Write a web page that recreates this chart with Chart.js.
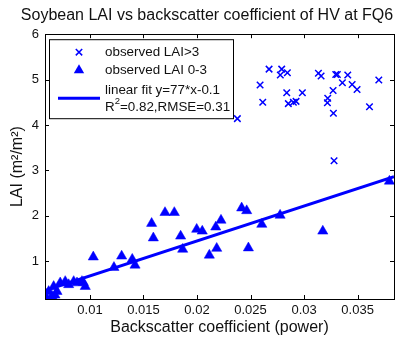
<!DOCTYPE html>
<html>
<head>
<meta charset="utf-8">
<script src="https://cdn.jsdelivr.net/npm/chart.js@4.4.1/dist/chart.umd.min.js"></script>
<style>
  html, body { margin: 0; padding: 0; background: #fff; }
</style>
</head>
<body>
<canvas id="c" width="406" height="341"></canvas>
<script>
// ---------------------------------------------------------------------------
// data
// ---------------------------------------------------------------------------
var highX = [0.02377, 0.02589, 0.02614, 0.02673, 0.02791, 0.02778, 0.02844, 0.02838, 0.02853,
             0.02900, 0.02925, 0.02984, 0.03134, 0.03159, 0.03271, 0.03221, 0.03218, 0.03274,
             0.03296, 0.03311, 0.03358, 0.03408, 0.03449, 0.03495, 0.03611, 0.03698, 0.03280];
var highY = [4.14, 4.88, 4.50, 5.23, 5.23, 5.10, 5.15, 4.71, 4.47,
             4.50, 4.52, 4.71, 5.14, 5.08, 4.76, 4.59, 4.49, 4.26,
             5.11, 5.11, 4.93, 5.10, 4.89, 4.78, 4.40, 4.99, 3.21];

var lowX = [0.00595, 0.00614, 0.00645, 0.00661, 0.00673, 0.00692, 0.00722, 0.00769, 0.00801,
            0.00848, 0.00879, 0.00925, 0.00938, 0.00956, 0.01031, 0.01224, 0.01296, 0.01395,
            0.01421, 0.01576, 0.01592, 0.01701, 0.01788, 0.01847, 0.01866, 0.01997, 0.02049,
            0.02115, 0.02175, 0.02184, 0.02224, 0.02417, 0.02464, 0.02480, 0.02605, 0.02776,
            0.03175, 0.03797];
var lowY = [0.19, 0.33, 0.23, 0.44, 0.25, 0.33, 0.52, 0.55, 0.48,
            0.55, 0.52, 0.55, 0.53, 0.44, 1.09, 0.86, 1.11, 1.04,
            0.91, 1.83, 1.51, 2.07, 2.07, 1.55, 1.26, 1.70, 1.66,
            1.13, 1.75, 1.28, 1.90, 2.17, 2.11, 1.29, 1.81, 2.01,
            1.66, 2.76];

// linear fit y=77*x-0.1, its two end points
var fitX = [0.0058, 0.0384];
var fitY = [0.35, 2.86];

var xTicks = [0.01, 0.015, 0.02, 0.025, 0.03, 0.035];
var yTicks = [1, 2, 3, 4, 5, 6];

var labels = ['observed LAI>3', 'observed LAI 0-3', 'linear fit y=77*x-0.1'];
var fitNote = ['R', '2', '=0.82,RMSE=0.31'];

var BLUE = '#0000ff';
var FONT = 'Liberation Sans, Arial, Helvetica, sans-serif';
var TEXT = '#111';

function toPoints(xs, ys) {
   return xs.map(function(x, i) { return { x: x, y: ys[i] }; });
}

// box round the plot area with inward ticks on all four sides
var axisBox = {
   id: 'axisBox',
   afterDatasetsDraw: function(chart) {
      var ctx = chart.ctx, a = chart.chartArea, sx = chart.scales.x, sy = chart.scales.y;
      var len = 4;
      ctx.save();
      ctx.strokeStyle = '#000';
      ctx.lineWidth = 1;
      ctx.strokeRect(Math.round(a.left) + 0.5, Math.round(a.top) + 0.5,
                     Math.round(a.right - a.left), Math.round(a.bottom - a.top));
      ctx.beginPath();
      xTicks.forEach(function(v) {
         var px = Math.round(sx.getPixelForValue(v)) + 0.5;
         ctx.moveTo(px, a.bottom); ctx.lineTo(px, a.bottom - len);
         ctx.moveTo(px, a.top);    ctx.lineTo(px, a.top + len);
      });
      yTicks.forEach(function(v) {
         var py = Math.round(sy.getPixelForValue(v)) + 0.5;
         ctx.moveTo(a.left, py);  ctx.lineTo(a.left + len, py);
         ctx.moveTo(a.right, py); ctx.lineTo(a.right - len, py);
      });
      ctx.stroke();
      ctx.restore();
   }
};

// legend box inside the upper left corner, MATLAB style
var boxLegend = {
   id: 'boxLegend',
   afterDraw: function(chart) {
      var ctx = chart.ctx, a = chart.chartArea;
      var left = a.left + 4, top = a.top + 5, w = 184, h = 79;
      var mx = left + 30, tx = left + 56;
      ctx.save();
      ctx.fillStyle = '#fff';
      ctx.fillRect(left, top, w, h);
      ctx.strokeStyle = '#000';
      ctx.lineWidth = 1;
      ctx.strokeRect(left + 0.5, top + 0.5, w, h);

      // x marker
      var r = 3.2, y1 = top + 13;
      ctx.strokeStyle = BLUE;
      ctx.lineWidth = 1.5;
      ctx.beginPath();
      ctx.moveTo(mx - r, y1 - r); ctx.lineTo(mx + r, y1 + r);
      ctx.moveTo(mx - r, y1 + r); ctx.lineTo(mx + r, y1 - r);
      ctx.stroke();

      // triangle marker
      var y2 = top + 31, t = 6;
      ctx.fillStyle = BLUE;
      ctx.beginPath();
      ctx.moveTo(mx, y2 - t);
      ctx.lineTo(mx + t * 0.866, y2 + t / 2);
      ctx.lineTo(mx - t * 0.866, y2 + t / 2);
      ctx.closePath();
      ctx.fill();

      // fit line
      var y3 = top + 59;
      ctx.lineWidth = 3;
      ctx.beginPath();
      ctx.moveTo(left + 9, y3); ctx.lineTo(left + 51, y3);
      ctx.stroke();

      // texts
      ctx.fillStyle = TEXT;
      ctx.textBaseline = 'middle';
      ctx.font = '13.4px ' + FONT;
      ctx.fillText(labels[0], tx, y1);
      ctx.fillText(labels[1], tx, y2);
      ctx.fillText(labels[2], tx, top + 51);
      var y4 = top + 68;
      ctx.fillText(fitNote[0], tx, y4);
      var wR = ctx.measureText(fitNote[0]).width;
      ctx.font = '9.5px ' + FONT;
      ctx.fillText(fitNote[1], tx + wR, y4 - 6);
      var w2 = ctx.measureText(fitNote[1]).width;
      ctx.font = '13.4px ' + FONT;
      ctx.fillText(fitNote[2], tx + wR + w2, y4);
      ctx.restore();
   }
};

var tickFont = { family: FONT, size: 13 };
var titleFont = { family: FONT, size: 16, weight: 'normal' };

new Chart(document.getElementById('c'), {
   type: 'scatter',
   data: {
      datasets: [
         {
            label: labels[2],
            type: 'line',
            data: toPoints(fitX, fitY),
            borderColor: BLUE,
            borderWidth: 3,
            pointRadius: 0,
            fill: false,
            order: 0
         },
         {
            label: labels[0],
            data: toPoints(highX, highY),
            pointStyle: 'crossRot',
            pointRadius: 4.6,
            borderColor: BLUE,
            borderWidth: 1.5,
            order: 2
         },
         {
            label: labels[1],
            data: toPoints(lowX, lowY),
            pointStyle: 'triangle',
            pointRadius: 5.9,
            backgroundColor: BLUE,
            borderColor: BLUE,
            borderWidth: 0.5,
            order: 1
         }
      ]
   },
   options: {
      responsive: false,
      animation: false,
      layout: { padding: { left: 8, right: 0, top: 0, bottom: 0 } },
      plugins: {
         legend: { display: false },
         tooltip: { enabled: false },
         title: {
            display: true,
            text: 'Soybean LAI vs backscatter coefficient of HV at FQ6',
            font: titleFont,
            color: TEXT,
            padding: { top: 6, bottom: 9 }
         }
      },
      scales: {
         x: {
            type: 'linear',
            position: 'bottom',
            min: 0.0058,
            max: 0.0384,
            afterBuildTicks: function(s) { s.ticks = xTicks.map(function(v) { return { value: v }; }); },
            afterFit: function(s) { s.height = 42; },
            grid: { display: false, drawTicks: false },
            border: { display: false },
            ticks: {
               font: tickFont, color: TEXT, padding: 4, maxRotation: 0, autoSkip: false,
               callback: function(v) { return String(v); }
            },
            title: {
               display: true, text: 'Backscatter coefficient (power)',
               font: titleFont, color: TEXT, padding: { top: 0, bottom: 4 }
            }
         },
         y: {
            type: 'linear',
            position: 'left',
            min: 0.165,
            max: 6,
            afterBuildTicks: function(s) { s.ticks = yTicks.map(function(v) { return { value: v }; }); },
            afterFit: function(s) { s.width = 37; },
            grid: { display: false, drawTicks: false },
            border: { display: false },
            ticks: { font: tickFont, color: TEXT, padding: 6, autoSkip: false },
            title: {
               display: true, text: 'LAI (m\u00b2/m\u00b2)',
               font: titleFont, color: TEXT, padding: { top: 0, bottom: 2 }
            }
         },
         yRight: {
            type: 'linear',
            position: 'right',
            display: true,
            afterFit: function(s) { s.width = 12; },
            grid: { display: false, drawTicks: false },
            border: { display: false },
            ticks: { display: false }
         }
      }
   },
   plugins: [axisBox, boxLegend]
});
</script>
</body>
</html>
